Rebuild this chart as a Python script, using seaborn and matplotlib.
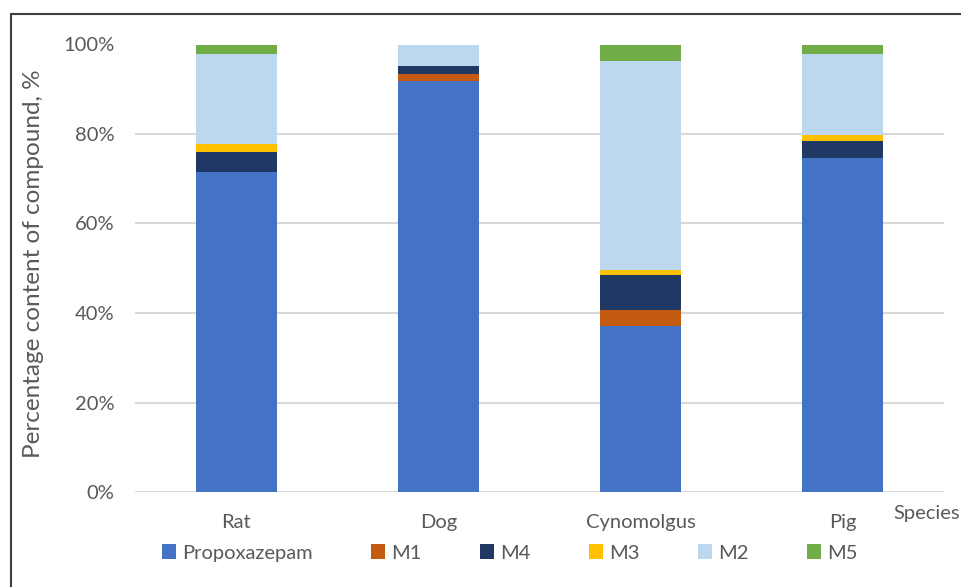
import matplotlib
matplotlib.use("Agg")
import matplotlib.pyplot as plt
from matplotlib.patches import Patch
from matplotlib.lines import Line2D
from matplotlib.ticker import PercentFormatter
import numpy as np
import pandas as pd
import seaborn as sns

# Metabolite profile per species (% of total compound)
species = ["Rat", "Dog", "Cynomolgus", "Pig"]
components = ["Propoxazepam", "M1", "M4", "M3", "M2", "M5"]
propoxazepam = [71.4, 91.8, 37.1, 74.6]
m1 = [0.0, 1.7, 3.6, 0.0]
m4 = [4.6, 1.8, 7.8, 3.9]
m3 = [1.8, 0.0, 1.2, 1.2]
m2 = [20.0, 4.7, 46.6, 18.1]
m5 = [2.2, 0.0, 3.7, 2.2]
yticks = [0, 20, 40, 60, 80, 100]

colors = ["#4472C4", "#C55A11", "#203864", "#FFC000", "#BDD7EE", "#70AD47"]

df = pd.DataFrame({"Species": species, "Propoxazepam": propoxazepam, "M1": m1,
                   "M4": m4, "M3": m3, "M2": m2, "M5": m5})

sns.set_theme(style="white")
plt.rcParams["font.family"] = ["Lato", "DejaVu Sans"]
text_color = "#595959"
fs = 14.5

fig = plt.figure(figsize=(9.61, 5.87), dpi=100)
ax = fig.add_axes([135 / 961, 1 - 492 / 587, (944 - 135) / 961, (492 - 44.5) / 587])

bottom = np.zeros(len(species))
for comp, col in zip(components, colors):
    vals = df[comp].to_numpy()
    sns.barplot(x=df["Species"], y=vals, bottom=bottom, color=col, width=0.4,
                ax=ax, saturation=1, edgecolor="none", linewidth=0, zorder=3)
    bottom = bottom + vals

ax.set_xlim(-0.5, 3.5)
ax.set_ylim(0, 100)
ax.set_yticks(yticks)
ax.yaxis.set_major_formatter(PercentFormatter(decimals=0))
ax.grid(axis="y", color="#d9d9d9", linewidth=1.5, zorder=0)
ax.grid(axis="x", visible=False)
for s in ax.spines.values():
    s.set_visible(False)
ax.tick_params(axis="y", length=0, pad=15, labelsize=fs, labelcolor=text_color)
ax.tick_params(axis="x", length=0, pad=16, labelsize=fs, labelcolor=text_color)
ax.set_xlabel("")
ax.set_ylabel("Percentage content of compound, %", fontsize=17.5, color=text_color)
ax.yaxis.set_label_coords(-(135 - 44) / (944 - 135), (492 - 264) / (492 - 44.5))

fig.text(960 / 961, 1 - 513 / 587, "Species", ha="right", va="center",
         fontsize=fs, color=text_color)

handles = [Patch(facecolor=c, edgecolor="none", label=n) for n, c in zip(components, colors)]
fig.legend(handles=handles, loc="center", bbox_to_anchor=(510 / 961, 1 - 553 / 587),
           ncol=6, frameon=False, fontsize=fs, labelcolor=text_color,
           handlelength=0.7, handleheight=0.7, handletextpad=0.3, columnspacing=2.9)

# outer frame (top and left edges)
fig.add_artist(Line2D([11 / 961, 1], [1 - 14 / 587, 1 - 14 / 587], color="#404040", linewidth=1.5))
fig.add_artist(Line2D([11 / 961, 11 / 961], [0, 1 - 14 / 587], color="#404040", linewidth=1.5))

fig.savefig("out.png", dpi=100)
